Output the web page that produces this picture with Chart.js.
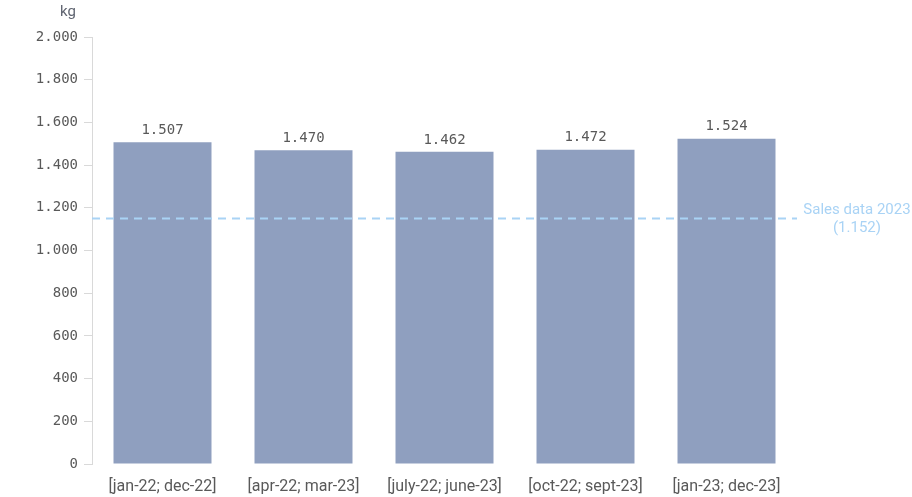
<!DOCTYPE html>
<html>
<head>
<meta charset="utf-8">
<script src="https://cdn.jsdelivr.net/npm/chart.js@4/dist/chart.umd.min.js"></script>
<style>
html,body{margin:0;padding:0;background:#fff;}
#wrap{position:relative;width:912px;height:497px;}
</style>
</head>
<body>
<div id="wrap"><canvas id="c" width="912" height="497"></canvas></div>
<script>
const categories = ["[jan-22; dec-22]", "[apr-22; mar-23]", "[july-22; june-23]", "[oct-22; sept-23]", "[jan-23; dec-23]"];
const values = [1507, 1470, 1462, 1472, 1524];
const refValue = 1152;
const refLabel = ["Sales data 2023", "(1.152)"];
const yUnit = "kg";
const yTicks = [0, 200, 400, 600, 800, 1000, 1200, 1400, 1600, 1800, 2000];

const numFont = "'DejaVu Sans Mono', monospace";
const txtFont = "Roboto, sans-serif";
const fmt = v => Number(v).toLocaleString('de-DE');

const overlay = {
  id: 'overlay',
  afterDatasetsDraw(chart) {
    const ctx = chart.ctx;
    const y = chart.scales.y;
    const area = chart.chartArea;
    ctx.save();
    const meta = chart.getDatasetMeta(0);
    ctx.font = "14px " + numFont;
    ctx.fillStyle = "#595959";
    ctx.textAlign = "center";
    ctx.textBaseline = "bottom";
    meta.data.forEach((bar, i) => {
      ctx.fillText(fmt(values[i]), bar.x, bar.y - 5);
    });
    const ry = Math.round(y.getPixelForValue(refValue)) + 0.5;
    ctx.strokeStyle = "#a9d3f5";
    ctx.lineWidth = 2;
    ctx.setLineDash([8, 6]);
    ctx.beginPath();
    ctx.moveTo(area.left, ry);
    ctx.lineTo(area.right, ry);
    ctx.stroke();
    ctx.setLineDash([]);
    ctx.fillStyle = "#a9d3f5";
    ctx.textAlign = "center";
    ctx.textBaseline = "middle";
    ctx.font = "15px " + txtFont;
    ctx.fillText(refLabel[0], 857, ry - 8);
    ctx.fillText(refLabel[1], 857, ry + 10);
    ctx.fillStyle = "#5f6470";
    ctx.font = "15px " + txtFont;
    ctx.textAlign = "center";
    ctx.fillText(yUnit, 68, 12);
    ctx.restore();
  }
};

new Chart(document.getElementById('c'), {
  type: 'bar',
  data: {
    labels: categories,
    datasets: [{
      data: values,
      backgroundColor: '#8f9fbf',
      borderWidth: 0,
      barPercentage: 0.695,
      categoryPercentage: 1.0
    }]
  },
  options: {
    responsive: false,
    animation: false,
    layout: { padding: { top: 37, right: 115, bottom: 0, left: 0 } },
    plugins: { legend: { display: false }, tooltip: { enabled: false } },
    scales: {
      x: {
        grid: { display: false },
        border: { display: false },
        afterFit(scale) { scale.height = 33; },
        ticks: { color: '#595959', font: { family: txtFont, size: 16 }, padding: 5, maxRotation: 0, autoSkip: false }
      },
      y: {
        min: 0, max: 2000,
        afterBuildTicks(scale) { scale.ticks = yTicks.map(v => ({ value: v })); },
        afterFit(scale) { scale.width = 92; },
        grid: { display: true, drawOnChartArea: false, drawTicks: true, tickLength: 8, color: '#d9d9d9' },
        border: { display: true, color: '#d9d9d9' },
        ticks: { color: '#595959', font: { family: numFont, size: 14 }, padding: 6, callback: v => fmt(v) }
      }
    }
  },
  plugins: [overlay]
});
</script>
</body>
</html>
